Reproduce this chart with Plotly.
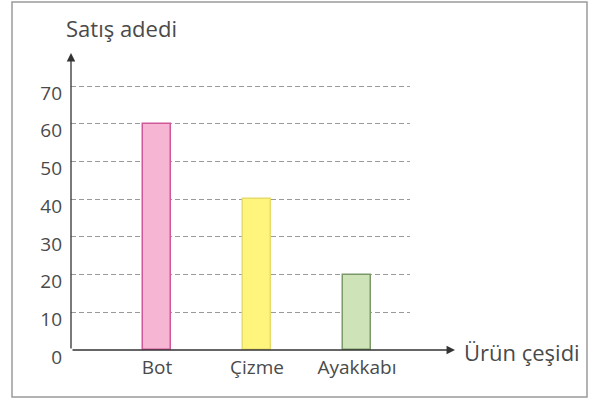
import plotly.graph_objects as go

categories = ["Bot", "Çizme", "Ayakkabı"]
values = [60, 40, 20]
fill_colors = ["#F7B5D4", "#FFF47C", "#CFE3B8"]
line_colors = ["#D0589A", "#E8DC6A", "#7A9A6A"]
y_ticks = [0, 10, 20, 30, 40, 50, 60, 70]
y_title = "Satış adedi"
x_title = "Ürün çeşidi"

W, H = 594, 400
L, R, T, B = 71, 410, 53, 350
pw, ph = R - L, B - T
FONT = "Open Sans"
TXT = "#4a4a4a"

fig = go.Figure()
fig.add_trace(go.Bar(
    x=categories, y=values, width=0.28,
    marker=dict(color=fill_colors, line=dict(color=line_colors, width=1.5)),
    showlegend=False,
))

def px(x):
    return (x - L) / pw

def py(y):
    return (B - y) / ph

fig.update_layout(
    width=W, height=H,
    margin=dict(l=L, r=W - R, t=T, b=H - B),
    paper_bgcolor="white", plot_bgcolor="white",
    font=dict(family=FONT, size=19, color=TXT),
    bargap=0,
    xaxis=dict(
        type="category", range=[-0.86, 2.53],
        showgrid=False, zeroline=False, showline=False,
        ticks="", ticklabelstandoff=4,
        tickfont=dict(family=FONT, size=19, color=TXT),
    ),
    yaxis=dict(
        range=[0, (B - T) / 37.7 * 10],
        tickvals=y_ticks, ticktext=[str(v) for v in y_ticks],
        showgrid=True, gridcolor="#9a9a9a", griddash="5px,3px", gridwidth=1,
        zeroline=False, showline=False, ticks="", ticklabelstandoff=8,
        ticklabelshift=7,
        tickfont=dict(family=FONT, size=19, color=TXT),
    ),
    shapes=[
        dict(type="rect", xref="paper", yref="paper",
             x0=px(12), x1=px(587), y0=py(397), y1=py(2),
             line=dict(color="#9a9a9a", width=1.5), fillcolor="rgba(0,0,0,0)", layer="below"),
    ],
    annotations=[
        dict(xref="paper", yref="paper", x=px(455), y=0, ax=-(455 - L), ay=0,
             showarrow=True, arrowhead=2, arrowsize=1.3, arrowwidth=1.3, arrowcolor="#333333", text=""),
        dict(xref="paper", yref="paper", x=0, y=1, ax=0, ay=ph,
             showarrow=True, arrowhead=2, arrowsize=1.3, arrowwidth=1.3, arrowcolor="#333333", text=""),
        dict(xref="paper", yref="paper", x=px(64), y=py(28), xanchor="left", yanchor="middle",
             text=y_title, showarrow=False, font=dict(family=FONT, size=22, color=TXT)),
        dict(xref="paper", yref="paper", x=px(462), y=py(352), xanchor="left", yanchor="middle",
             text=x_title, showarrow=False, font=dict(family=FONT, size=22, color=TXT)),
    ],
)

fig.write_html("out.html", config={"displayModeBar": False},
               post_script="document.body.style.margin='0';document.body.style.overflow='hidden';")
